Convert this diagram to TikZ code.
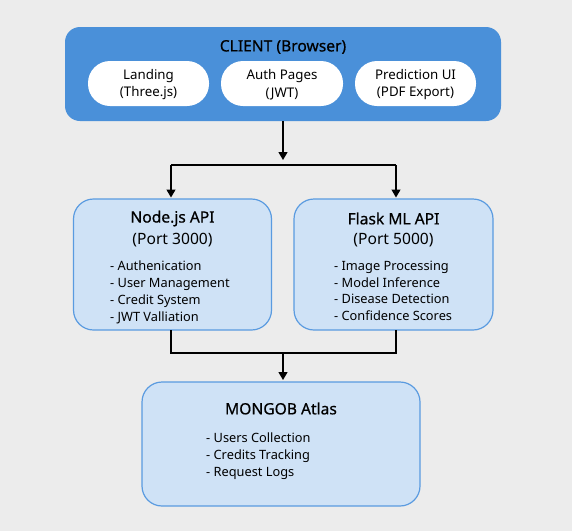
\documentclass[tikz,border=0pt]{standalone}
\usepackage{fontspec}
\setmainfont{Noto Sans}
\usetikzlibrary{arrows.meta}
\definecolor{bg}{HTML}{ECECEC}
\definecolor{clientblue}{HTML}{4A90D9}
\definecolor{lightbox}{HTML}{CFE2F6}
\definecolor{boxline}{HTML}{5A9BE0}
\tikzset{
  clientbox/.style={draw=none, fill=clientblue, rounded corners=15pt},
  pillshape/.style={draw=none, fill=white, rounded corners=22pt},
  pilltext/.style={align=center, font=\fontsize{13.3}{17.5}\selectfont},
  svcbox/.style={draw=boxline, line width=1.2pt, fill=lightbox, rounded corners=20pt},
  ttl/.style={font=\fontsize{15.6}{18}\selectfont\addfontfeatures{FakeBold=0.6}, align=center},
  sub/.style={font=\fontsize{15.6}{18}\selectfont, align=center},
  lst/.style={font=\fontsize{12.8}{16.9}\selectfont, align=left, anchor=north west, inner sep=0pt},
  conn/.style={line width=1.3pt, black},
  arr/.style={conn, -{Triangle[length=8pt,width=9pt]}}
}
\begin{document}
\begin{tikzpicture}[x=1pt,y=-1pt]
\useasboundingbox[fill=bg] (0,0) rectangle (572,531);
% client
\path[clientbox] (65,27) rectangle (501,121);
\node[ttl] (clientt) at (283,47) {CLIENT (Browser)};
\path[pillshape] (88,61) rectangle (209,106);
\path[pillshape] (221,61) rectangle (343,106);
\path[pillshape] (355,61) rectangle (476,106);
\node[pilltext] (land) at (148.5,84.5) {Landing\\(Three.js)};
\node[pilltext] (auth) at (282,84.5) {Auth Pages\\(JWT)};
\node[pilltext] (pred) at (415.5,84.5) {Prediction UI\\(PDF Export)};
\coordinate (cbot) at (283,121);
\coordinate (split) at (283,165);
\coordinate (sl) at (171,165);
\coordinate (sr) at (396,165);
% service boxes
\node[svcbox, minimum width=198pt, minimum height=131pt] (node) at (172.5,264.5) {};
\node[svcbox, minimum width=199pt, minimum height=131pt] (flask) at (393.5,264.5) {};
\node[ttl] at (172.5,218.5) {Node.js API};
\node[sub] at (172.5,240) {(Port 3000)};
\node[lst] at (110,260.5) {- Authenication\\- User Management\\- Credit System\\- JWT Valliation};
\node[ttl] at (393.5,218.5) {Flask ML API};
\node[sub] at (393.5,240) {(Port 5000)};
\node[lst] at (334,260.5) {- Image Processing\\- Model Inference\\- Disease Detection\\- Confidence Scores};
% mongo
\node[svcbox, minimum width=278pt, minimum height=124pt] (mongo) at (281,444) {};
\node[ttl] at (281,408.5) {MONGOB Atlas};
\node[lst] at (206,432.5) {- Users Collection\\- Credits Tracking\\- Request Logs};
\coordinate (ml) at (171,353);
\coordinate (mr) at (396,353);
\coordinate (mm) at (283,353);
% connectors
\draw[arr] (cbot) -- (283,160);
\draw[conn] (sl) -- (sr);
\draw[arr] (sl) -- (171,197.5);
\draw[arr] (sr) -- (396,197.5);
\draw[conn] (171,330) -- (ml) -- (mr) -- (396,330);
\draw[arr] (mm) -- (283,380);
\end{tikzpicture}
\end{document}
